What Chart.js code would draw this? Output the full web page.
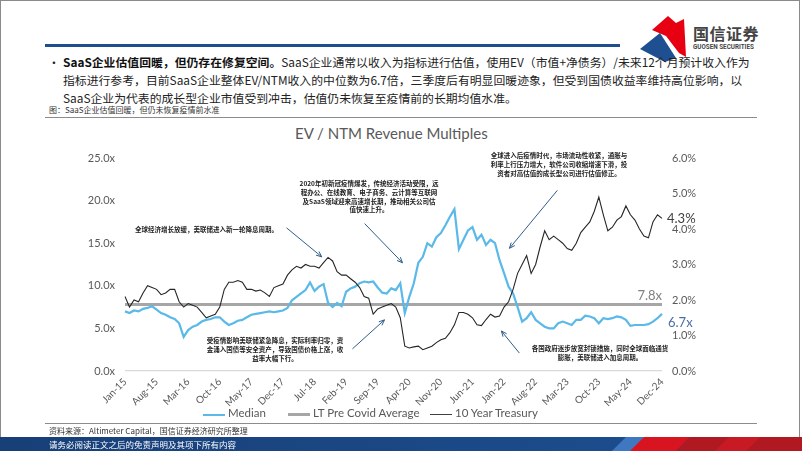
<!DOCTYPE html>
<html>
<head>
<meta charset="utf-8">
<script src="https://cdn.jsdelivr.net/npm/chart.js@4.4.1/dist/chart.umd.min.js"></script>
<style>
html, body { margin: 0; padding: 0; background: #fff; }
body { width: 802px; height: 451px; position: relative; overflow: hidden; font-family: "Noto Sans CJK SC", sans-serif; }
.abs { position: absolute; white-space: nowrap; }
.frame { position: absolute; left: 0; top: 0; width: 800px; height: 451px; border-left: 1px solid #8a8a8a; border-right: 1px solid #8a8a8a; border-top: 1px solid #8a8a8a; box-sizing: border-box; }
.bullet { font-size: 11.85px; color: #222; line-height: 18px; }
.bullet b { color: #111; }
.note { font-size: 6.5px; font-weight: 700; color: #222; line-height: 8.8px; text-align: center; }
.legend { font-family: Lato, sans-serif; font-size: 11.5px; color: #595959; }
.swatch { position: absolute; }
#chartBox { position: absolute; left: 45px; top: 118px; width: 715px; height: 304px; }
</style>
</head>
<body>
<div class="frame"></div>

<!-- logo -->
<svg class="abs" style="left:636px;top:12px" width="56" height="52" viewBox="636 12 56 52">
  <polygon points="652,30 668,16 676,23 684,19 686,57 679,53 666,36" fill="#e60012"/>
  <polygon points="640,49 660,33 676,58 665,62" fill="#1d4f91"/>
</svg>
<div class="abs" style="left:693px;top:21px;font-size:16px;color:#444;font-weight:700;letter-spacing:0.5px">国信证券</div>
<div class="abs" style="left:693px;top:43px;font-size:6.3px;color:#444;font-family:Roboto,sans-serif;font-weight:700">GUOSEN SECURITIES</div>
<div class="abs" style="left:45px;top:44px;width:575px;height:3px;background:#1f4e8c"></div>

<div class="abs bullet" style="left:48px;top:53px">•</div>
<div class="abs bullet" style="left:63px;top:53px"><b>SaaS企业估值回暖，但仍存在修复空间。</b>SaaS企业通常以收入为指标进行估值，使用EV（市值+净债务）/未来12个月预计收入作为</div>
<div class="abs bullet" style="left:63px;top:71px">指标进行参考，目前SaaS企业整体EV/NTM收入的中位数为6.7倍，三季度后有明显回暖迹象，但受到国债收益率维持高位影响，以</div>
<div class="abs bullet" style="left:63px;top:89px">SaaS企业为代表的成长型企业市值受到冲击，估值仍未恢复至疫情前的长期均值水准。</div>
<div class="abs" style="left:49px;top:104px;font-size:8px;color:#333">图：SaaS企业估值回暖，但仍未恢复疫情前水准</div>
<div class="abs" style="left:45px;top:117px;width:712px;height:1px;background:#8c8c8c"></div>

<!-- chart title -->
<div class="abs" style="left:295px;top:124px;font-family:Lato,sans-serif;font-size:15px;color:#595959">EV / NTM Revenue Multiples</div>

<div id="chartBox"><canvas id="chart"></canvas></div>

<!-- annotations -->
<div class="abs note" style="left:135px;top:225px">全球经济增长放缓，美联储进入新一轮降息周期。</div>
<div class="abs note" style="left:294px;top:179px;width:150px">2020年初新冠疫情爆发，传统经济活动受限，远<br>程办公、在线教育、电子商务、云计算等互联网<br>及SaaS领域迎来高速增长期，推动相关公司估<br>值快速上升。</div>
<div class="abs note" style="left:487px;top:151px;width:144px">全球进入后疫情时代，市场流动性收紧，通胀与<br>利率上行压力增大，软件公司收缩增速下滑，投<br>资者对高估值的成长型公司进行估值修正。</div>
<div class="abs note" style="left:204px;top:336px;width:142px">受疫情影响美联储紧急降息，实际利率归零，资<br>金涌入国债等安全资产，导致国债价格上涨，收<br>益率大幅下行。</div>
<div class="abs note" style="left:529px;top:344px;width:142px">各国政府逐步放宽封锁措施，同时全球面临通货<br>膨胀，美联储进入加息周期。</div>

<!-- legend -->
<div class="abs swatch" style="left:203px;top:414px;width:22px;height:2px;background:#5ab9e8"></div>
<div class="abs legend" style="left:228px;top:406px">Median</div>
<div class="abs swatch" style="left:288px;top:413px;width:22px;height:3px;background:#a6a6a6"></div>
<div class="abs legend" style="left:313px;top:406px">LT Pre Covid Average</div>
<div class="abs swatch" style="left:430px;top:414px;width:22px;height:1.3px;background:#404040"></div>
<div class="abs legend" style="left:455px;top:406px">10 Year Treasury</div>

<!-- footer -->
<div class="abs" style="left:45px;top:423px;width:712px;height:1px;background:#8c8c8c"></div>
<div class="abs" style="left:49px;top:425px;font-size:8px;color:#333">资料来源：Altimeter Capital，国信证券经济研究所整理</div>
<svg class="abs" style="left:0;top:437px" width="802" height="14">
  <defs>
    <linearGradient id="bg" x1="0" x2="1" y1="0" y2="0">
      <stop offset="0" stop-color="#173f78"/>
      <stop offset="0.7" stop-color="#1c4b8a"/>
      <stop offset="1" stop-color="#1d4f91"/>
    </linearGradient>
  </defs>
  <rect x="0" y="0" width="802" height="14" fill="url(#bg)"/>
  <polygon points="612,14 626,0 660,0 646,14" fill="#3f78c0"/>
  <polygon points="630,14 644,0 690,0 676,14" fill="#d7141f"/>
  <polygon points="676,14 690,0 802,0 802,14" fill="#b01822"/>
  <polygon points="715,14 729,0 760,0 746,14" fill="#c81a24"/>
</svg>
<div class="abs" style="left:49px;top:438px;font-size:8.5px;color:#fff">请务必阅读正文之后的免责声明及其项下所有内容</div>

<script>
// months Jan-15 .. Dec-24
const monthNames = ['Jan', 'Feb', 'Mar', 'Apr', 'May', 'Jun', 'Jul', 'Aug', 'Sep', 'Oct', 'Nov', 'Dec'];
const years = ['15', '16', '17', '18', '19', '20', '21', '22', '23', '24'];
const categories = [];
years.forEach(y => monthNames.forEach(m => categories.push(m + '-' + y)));

// EV / NTM revenue median multiple (x), monthly
const median = [
  7.0, 6.8, 7.1, 7.0, 7.3, 7.4, 7.6, 7.2, 6.8, 6.6, 6.3, 6.1,
  5.6, 4.0, 4.8, 5.2, 5.4, 5.8, 6.0, 6.1, 6.3, 6.3, 5.8, 5.4,
  5.6, 5.9, 6.0, 6.3, 6.6, 6.7, 6.8, 6.9, 7.0, 6.9, 7.0, 7.1,
  7.4, 8.3, 8.7, 9.1, 9.5, 10.4, 9.4, 9.9, 10.2, 8.0, 7.5, 8.0,
  7.6, 9.3, 9.7, 9.9, 10.3, 10.5, 10.4, 10.5, 9.8, 9.2, 9.1, 9.7,
  9.5, 10.3, 6.8, 8.7, 10.3, 12.7, 13.4, 15.0, 14.6, 15.7, 16.2, 17.1,
  18.1, 19.0, 14.3, 15.4, 16.5, 16.9, 15.4, 16.0, 14.8, 15.4, 15.0, 13.0,
  11.5, 9.9, 9.1, 7.5, 5.8, 6.2, 6.9, 6.0, 5.6, 5.2, 5.0, 5.0,
  5.6, 5.8, 5.6, 5.4, 6.0, 6.0, 6.5, 6.4, 6.2, 5.6, 6.2, 6.1,
  6.2, 6.4, 6.3, 6.0, 5.3, 5.4, 5.4, 5.4, 5.5, 5.8, 6.2, 6.7
];

// 10 year treasury yield (%), monthly
const treasury = [
  2.1, 1.8, 2.0, 1.95, 2.2, 2.4, 2.35, 2.3, 2.15, 2.2, 2.3, 2.3,
  1.95, 1.8, 1.9, 1.85, 1.8, 1.65, 1.5, 1.55, 1.6, 1.8, 2.3, 2.5,
  2.5, 2.55, 2.5, 2.3, 2.3, 2.25, 2.28, 2.2, 2.1, 2.35, 2.4, 2.45,
  2.7, 2.85, 2.95, 2.9, 3.0, 2.95, 2.95, 2.9, 3.05, 3.2, 3.1, 2.8,
  2.7, 2.7, 2.6, 2.5, 2.35, 2.1, 2.05, 1.6, 1.75, 1.8, 1.85, 1.9,
  1.8, 1.5, 0.7, 0.65, 0.68, 0.7, 0.6, 0.65, 0.7, 0.8, 0.88, 0.92,
  1.08, 1.3, 1.65, 1.65, 1.6, 1.5, 1.3, 1.28, 1.45, 1.6, 1.52, 1.55,
  1.8, 1.95, 2.3, 2.75, 3.0, 3.25, 2.75, 3.0, 3.5, 3.95, 3.7, 3.8,
  3.7, 3.6, 3.45, 3.4, 3.6, 3.9, 4.05, 4.2, 4.5, 4.9, 4.4, 3.95,
  4.05, 4.25, 4.35, 4.65, 4.4, 4.25, 4.0, 3.8, 3.75, 4.2, 4.4, 4.3
];

// long-term pre-covid average of the median
const ltAverage = 7.8;
const ltLine = categories.map(() => ltAverage);

const leftTicks = [0, 5, 10, 15, 20, 25];
const rightTicks = [0, 1, 2, 3, 4, 5, 6];
const tickEvery = 7;

// arrows in data units: [fromMonth, fromMultiple, toMonth, toMultiple]
const arrows = [
  [35.8, 16.8, 43.6, 13.4],
  [53.1, 17.3, 61.5, 12.7],
  [95.8, 21.2, 85.2, 14.4],
  [50.4, 2.6, 57.5, 6.0],
  [87.4, 2.1, 83.4, 4.7]
];

const arrowPlugin = {
  id: 'arrows',
  afterDatasetsDraw(chart) {
    const ctx = chart.ctx;
    const xs = chart.scales.x, ys = chart.scales.y;
    ctx.save();
    ctx.strokeStyle = '#2f5d8a';
    ctx.fillStyle = '#2f5d8a';
    ctx.lineWidth = 1;
    arrows.forEach(a => {
      const x1 = xs.getPixelForValue(a[0]), y1 = ys.getPixelForValue(a[1]);
      const x2 = xs.getPixelForValue(a[2]), y2 = ys.getPixelForValue(a[3]);
      const ang = Math.atan2(y2 - y1, x2 - x1);
      ctx.beginPath();
      ctx.moveTo(x1, y1);
      ctx.lineTo(x2, y2);
      ctx.stroke();
      ctx.beginPath();
      ctx.moveTo(x2, y2);
      ctx.lineTo(x2 - 6 * Math.cos(ang - 0.4), y2 - 6 * Math.sin(ang - 0.4));
      ctx.moveTo(x2, y2);
      ctx.lineTo(x2 - 6 * Math.cos(ang + 0.4), y2 - 6 * Math.sin(ang + 0.4));
      ctx.stroke();
    });

    // end labels
    const last = categories.length - 1;
    const xe = xs.getPixelForValue(last);
    ctx.font = '13px Lato';
    ctx.textBaseline = 'middle';
    ctx.textAlign = 'left';
    ctx.fillStyle = '#404040';
    ctx.fillText(treasury[last].toFixed(1) + '%', xe + 5, chart.scales.y2.getPixelForValue(treasury[last]));
    ctx.fillStyle = '#4a6fa8';
    ctx.fillText(median[last].toFixed(1) + 'x', xe + 6, ys.getPixelForValue(median[last]) + 9);
    ctx.textAlign = 'right';
    ctx.fillStyle = '#808080';
    ctx.fillText(ltAverage.toFixed(1) + 'x', xe, ys.getPixelForValue(ltAverage) - 9);
    ctx.restore();
  }
};

const tickFont = { family: 'Lato', size: 11 };

new Chart(document.getElementById('chart'), {
  type: 'line',
  data: {
    labels: categories,
    datasets: [
      { label: '10 Year Treasury', data: treasury, yAxisID: 'y2', borderColor: '#262626', borderWidth: 1.1, order: 0 },
      { label: 'Median', data: median, yAxisID: 'y', borderColor: '#5ab9e8', borderWidth: 2.2, order: 1 },
      { label: 'LT Pre Covid Average', data: ltLine, yAxisID: 'y', borderColor: '#a6a6a6', borderWidth: 3, order: 2 }
    ]
  },
  options: {
    responsive: true,
    maintainAspectRatio: false,
    animation: false,
    elements: { point: { radius: 0 }, line: { tension: 0 } },
    layout: { padding: { left: 40, right: 53, top: 40, bottom: 6 } },
    plugins: { legend: { display: false }, tooltip: { enabled: false } },
    scales: {
      x: {
        grid: { display: false },
        border: { display: false },
        ticks: {
          autoSkip: false, minRotation: 45, maxRotation: 45, padding: -3,
          color: '#595959', font: { family: 'Lato', size: 10 },
          callback: (v, i) => (i % tickEvery === 0 ? categories[i] : '')
        },
        afterFit: s => { s.height = 45; }
      },
      y: {
        position: 'left', min: 0, max: 25,
        grid: { drawTicks: false, color: c => (c.tick.value === 0 ? '#d9d9d9' : 'rgba(0,0,0,0)'), lineWidth: 1.2 },
        border: { display: false },
        afterBuildTicks: s => { s.ticks = leftTicks.map(v => ({ value: v })); },
        ticks: { padding: 10, color: '#595959', font: tickFont, callback: v => v.toFixed(1) + 'x' },
        afterFit: s => { s.width = 40; }
      },
      y2: {
        position: 'right', min: 0, max: 6,
        grid: { display: false, drawTicks: false },
        border: { display: false },
        afterBuildTicks: s => { s.ticks = rightTicks.map(v => ({ value: v })); },
        ticks: { padding: 10, color: '#595959', font: tickFont, callback: v => v.toFixed(1) + '%' },
        afterFit: s => { s.width = 45; }
      }
    }
  },
  plugins: [arrowPlugin]
});
</script>
</body>
</html>
